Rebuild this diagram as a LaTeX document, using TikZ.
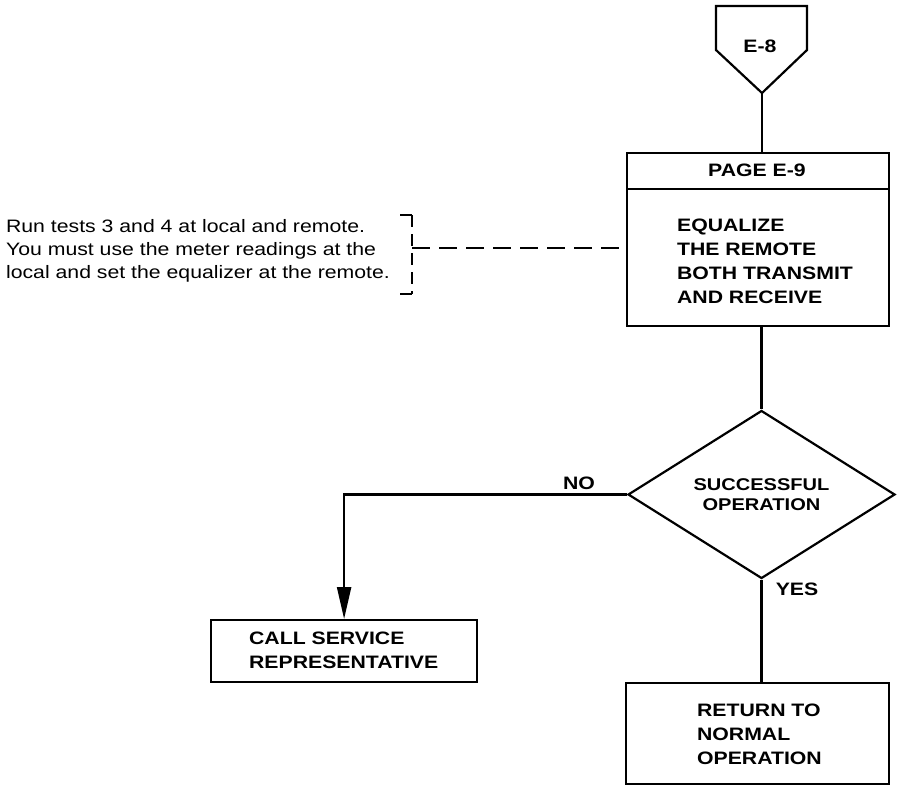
\documentclass[tikz,border=0pt]{standalone}
\usepackage{fontspec}
\newfontfamily\hv[FakeStretch=1.18]{Liberation Sans}
\usetikzlibrary{arrows.meta,shapes.geometric}
\begin{document}
\begin{tikzpicture}[x=1pt,y=-1pt,
  line width=2.2pt,
  every node/.style={font=\hv\fontsize{18}{24}\selectfont},
  lbl/.style={font=\hv\bfseries\fontsize{18}{24}\selectfont, inner sep=0pt},
  boxx/.style={draw, inner sep=0pt, anchor=north west},
  note/.style={font=\hv\fontsize{18}{23}\selectfont, inner sep=0pt, align=left, anchor=west},
  dashh/.style={dash pattern=on 18pt off 9pt, line width=2pt},
  dashv/.style={dash pattern=on 12pt off 7pt, line width=2pt}]
\useasboundingbox (0,0) rectangle (897,785);

% E-8 off-page connector
\draw[line join=miter] (716,6) -- (807,6) -- (807,50) -- (762,93) -- (716,50) -- cycle;
\coordinate (e8tip) at (762,93);
\node[lbl] (e8) at (760,46) {E-8};

% PAGE E-9 box
\node[boxx, minimum width=262pt, minimum height=173pt] (pg) at (626,152) {};
\coordinate (hdl) at (626,189);
\draw (hdl) -- (hdl -| pg.east);
\node[lbl] (pgh) at (757,170) {PAGE E-9};
\node[lbl, align=left, anchor=west] (pgt) at (676,261.5) {EQUALIZE\\THE REMOTE\\BOTH TRANSMIT\\AND RECEIVE};

\draw (e8tip) -- (e8tip |- pg.north);

% note with bracket
\node[note] (nt) at (5,251) {Run tests 3 and 4 at local and remote.\\You must use the meter readings at the\\local and set the equalizer at the remote.};
\coordinate (brtop) at (412,215);
\coordinate (brbot) at (412,294);
\coordinate (brmid) at (412,248);
\draw[line width=2pt] ([xshift=-12pt]brtop) -- (brtop);
\draw[line width=2pt] ([xshift=-12pt]brbot) -- (brbot);
\draw[dashv] (brtop) -- (brbot);
\draw[dashh] (brmid) -- (brmid -| pg.west);

% decision
\node[draw, diamond, minimum width=267pt, minimum height=131pt, inner sep=0pt,
      align=center, font=\hv\bfseries\fontsize{17}{20}\selectfont] (d) at (761.5,494.5) {SUCCESSFUL\\OPERATION};
\draw (pg.south -| d.north) -- (d.north);

% call service
\node[boxx, minimum width=266pt, minimum height=62pt] (call) at (210,619) {};
\node[lbl, align=left, anchor=west] (callt) at (248,650.5) {\fontsize{18}{21}\selectfont CALL SERVICE\\REPRESENTATIVE};
\draw[-{Triangle[length=32pt,width=14pt]}] (d.west) -| (call.north);
\node[lbl] (no) at (579,483) {NO};

% return
\node[boxx, minimum width=263pt, minimum height=101pt] (ret) at (625,682) {};
\node[lbl, align=left, anchor=west] (rett) at (696,734.5) {\fontsize{18}{23.5}\selectfont RETURN TO\\NORMAL\\OPERATION};
\draw (d.south) -- (d.south |- ret.north);
\node[lbl] (yes) at (797,589) {YES};
\end{tikzpicture}
\end{document}
